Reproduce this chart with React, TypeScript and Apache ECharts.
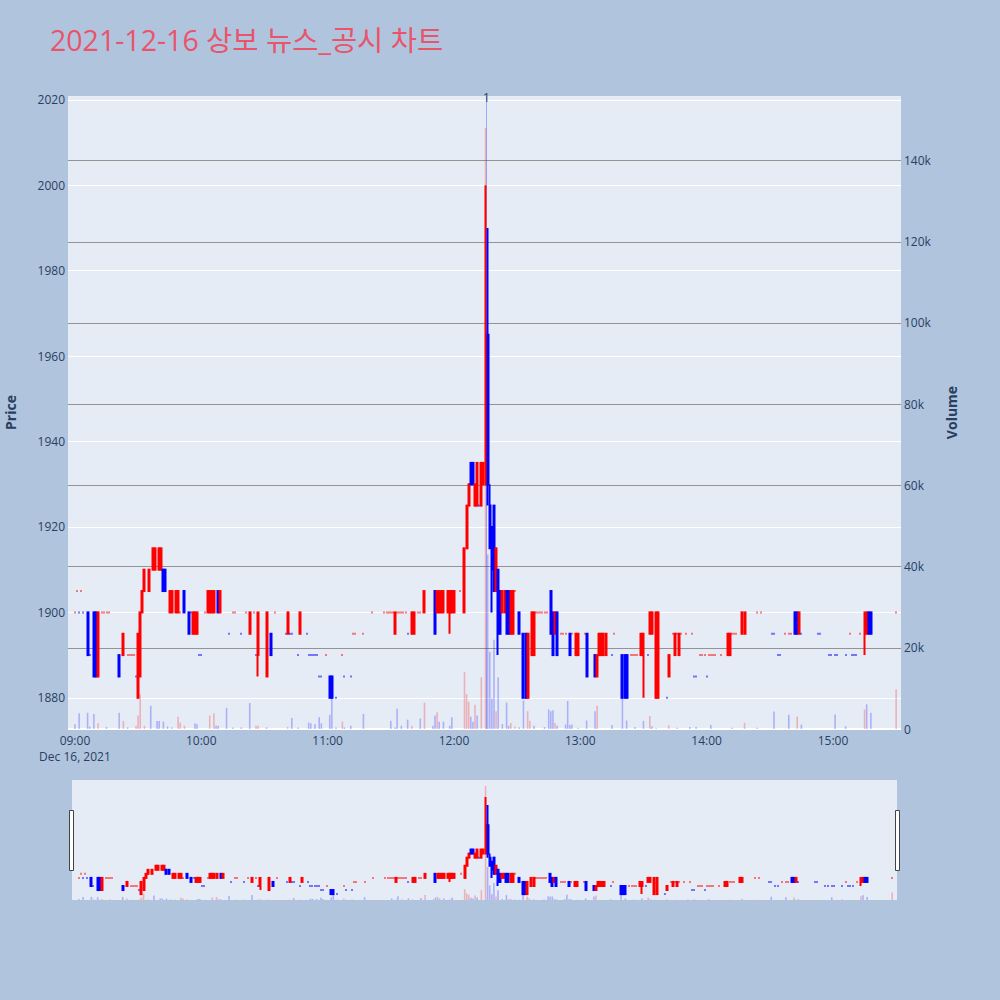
import { useEffect, useRef } from 'react'
import * as echarts from 'echarts'

const FONT = "'Open Sans', 'Noto Sans CJK KR', sans-serif"
const INK = '#2a3f5f'
const UP = '#ff0000'
const DOWN = '#0000ff'
const UP_VOL = 'rgba(255, 0, 0, 0.25)'
const DOWN_VOL = 'rgba(0, 0, 255, 0.25)'

// x values are minutes after 09:00
const X_MIN = -3.3
const X_MAX = 392.3
const PRICE_MIN = 1872.7
const PRICE_MAX = 2020.9
const VOLUME_MAX = 155900

const xTicks = [0, 60, 120, 180, 240, 300, 360]
const xTickLabels = ['09:00\nDec 16, 2021', '10:00', '11:00', '12:00', '13:00', '14:00', '15:00']
const priceTicks = [1880, 1900, 1920, 1940, 1960, 1980, 2000, 2020]
const volumeTicks = [0, 20000, 40000, 60000, 80000, 100000, 120000, 140000]
const newsTime = 195.4
const newsCount = '1'

// [minute, open, close, low, high]
const candles = [
  [6, 1900, 1890, 1890, 1900], [9, 1900, 1885, 1885, 1900], [10, 1900, 1885, 1885, 1900],
  [11, 1885, 1900, 1885, 1900], [21, 1890, 1885, 1885, 1890], [23, 1890, 1895, 1890, 1895],
  [30, 1880, 1895, 1880, 1895], [31, 1885, 1900, 1885, 1900], [32, 1900, 1905, 1900, 1905],
  [33, 1905, 1910, 1905, 1910], [35, 1905, 1910, 1905, 1910], [37, 1910, 1915, 1910, 1915],
  [38, 1910, 1915, 1910, 1915], [40, 1910, 1915, 1910, 1915], [41, 1910, 1915, 1910, 1915],
  [42, 1910, 1905, 1905, 1910], [43, 1910, 1905, 1905, 1910], [45, 1900, 1905, 1900, 1905],
  [46, 1900, 1905, 1900, 1905], [48, 1900, 1905, 1900, 1905], [49, 1900, 1905, 1900, 1905],
  [52, 1905, 1900, 1900, 1905], [54, 1900, 1895, 1895, 1900], [56, 1895, 1900, 1895, 1900],
  [57, 1895, 1900, 1895, 1900], [58, 1895, 1900, 1895, 1900], [63, 1900, 1905, 1900, 1905],
  [64, 1900, 1905, 1900, 1905], [65, 1900, 1905, 1900, 1905], [66, 1900, 1905, 1900, 1905],
  [68, 1905, 1900, 1900, 1905], [69, 1900, 1905, 1900, 1905], [83, 1895, 1900, 1895, 1900],
  [87, 1890, 1900, 1885, 1900], [91, 1885, 1900, 1885, 1900], [93, 1895, 1890, 1890, 1895],
  [101, 1895, 1900, 1895, 1900], [107, 1895, 1900, 1895, 1900], [121, 1885, 1880, 1880, 1885],
  [122, 1885, 1880, 1880, 1885], [152, 1895, 1900, 1895, 1900], [160, 1895, 1900, 1895, 1900],
  [161, 1895, 1900, 1895, 1900], [166, 1900, 1905, 1900, 1905], [171, 1905, 1895, 1895, 1905],
  [172, 1900, 1905, 1900, 1905], [173, 1900, 1905, 1900, 1905], [174, 1900, 1905, 1900, 1905],
  [175, 1900, 1905, 1900, 1905], [177, 1900, 1905, 1900, 1905], [178, 1900, 1905, 1895, 1905],
  [179, 1900, 1905, 1900, 1905], [180, 1900, 1905, 1900, 1905], [185, 1900, 1915, 1900, 1915],
  [186, 1915, 1925, 1915, 1925], [187, 1925, 1930, 1925, 1930], [188, 1935, 1930, 1930, 1935],
  [189, 1935, 1930, 1930, 1935], [190, 1925, 1930, 1925, 1930], [191, 1925, 1935, 1925, 1935],
  [193, 1925, 1935, 1925, 1935], [194, 1930, 1935, 1930, 1935], [195, 1930, 1965, 1930, 2000],
  [196, 1965, 1930, 1925, 1990], [197, 1925, 1915, 1915, 1930], [198, 1920, 1910, 1900, 1920],
  [199, 1925, 1905, 1905, 1925], [200, 1905, 1915, 1905, 1915], [201, 1910, 1895, 1890, 1910],
  [202, 1905, 1895, 1895, 1905], [203, 1900, 1905, 1900, 1905], [204, 1900, 1905, 1900, 1905],
  [205, 1905, 1895, 1895, 1905], [206, 1905, 1895, 1895, 1905], [207, 1895, 1905, 1895, 1905],
  [208, 1895, 1905, 1895, 1905], [211, 1900, 1895, 1895, 1900], [213, 1895, 1880, 1880, 1895],
  [214, 1895, 1880, 1880, 1895], [215, 1880, 1895, 1880, 1895], [217, 1890, 1900, 1890, 1900],
  [218, 1890, 1900, 1890, 1900], [226, 1905, 1895, 1895, 1905], [227, 1900, 1890, 1890, 1900],
  [228, 1895, 1900, 1895, 1900], [229, 1900, 1890, 1890, 1900], [235, 1895, 1890, 1890, 1895],
  [238, 1890, 1895, 1890, 1895], [239, 1890, 1895, 1890, 1895], [243, 1895, 1885, 1885, 1895],
  [247, 1890, 1885, 1885, 1890], [248, 1885, 1890, 1885, 1890], [249, 1890, 1895, 1890, 1895],
  [250, 1890, 1895, 1890, 1895], [251, 1890, 1895, 1890, 1895], [252, 1890, 1895, 1890, 1895],
  [260, 1890, 1880, 1880, 1890], [261, 1890, 1880, 1880, 1890], [262, 1890, 1880, 1880, 1890],
  [269, 1890, 1895, 1890, 1895], [270, 1890, 1895, 1880, 1895], [273, 1895, 1900, 1895, 1900],
  [274, 1895, 1900, 1895, 1900], [276, 1880, 1900, 1880, 1900], [277, 1880, 1900, 1880, 1900],
  [282, 1885, 1890, 1885, 1890], [285, 1890, 1895, 1890, 1895], [287, 1890, 1895, 1890, 1895],
  [310, 1890, 1895, 1890, 1895], [311, 1890, 1895, 1890, 1895], [317, 1895, 1900, 1895, 1900],
  [318, 1895, 1900, 1895, 1900], [342, 1900, 1895, 1895, 1900], [343, 1900, 1895, 1895, 1900],
  [344, 1895, 1900, 1895, 1900], [375, 1895, 1900, 1890, 1900], [376, 1895, 1900, 1895, 1900],
  [377, 1900, 1895, 1895, 1900], [378, 1900, 1895, 1895, 1900],
]

// [minute, price] for open == close minutes
const dojiUp = [
  [0, 1900], [1, 1905], [3, 1905], [13, 1900], [14, 1900], [15, 1900], [16, 1900],
  [25, 1890], [26, 1890], [27, 1890], [28, 1890], [50, 1900], [62, 1900], [75, 1900],
  [76, 1900], [81, 1900], [85, 1900], [95, 1900], [119, 1890], [127, 1890], [132, 1895],
  [133, 1895], [137, 1895], [141, 1900], [147, 1900], [148, 1900], [149, 1900], [150, 1900],
  [151, 1900], [153, 1900], [154, 1900], [155, 1900], [156, 1900], [157, 1900], [163, 1900],
  [164, 1900], [183, 1905], [209, 1905], [219, 1900], [220, 1900], [221, 1900], [222, 1900],
  [223, 1900], [224, 1900], [231, 1895], [232, 1895], [233, 1895], [236, 1895], [242, 1895],
  [256, 1895], [264, 1890], [265, 1890], [266, 1890], [267, 1890], [284, 1895], [286, 1895],
  [288, 1895], [290, 1895], [293, 1895], [297, 1890], [298, 1890], [299, 1890], [301, 1890],
  [302, 1890], [303, 1890], [304, 1890], [307, 1890], [312, 1895], [313, 1895], [314, 1895],
  [324, 1900], [326, 1900], [337, 1895], [339, 1895], [340, 1895], [368, 1895], [373, 1895],
  [390, 1900],
]
const dojiDown = [
  [2, 1900], [4, 1900], [7, 1890], [29, 1885], [55, 1900], [59, 1890], [60, 1890],
  [73, 1895], [79, 1895], [86, 1890], [100, 1895], [102, 1895], [103, 1895], [106, 1890],
  [110, 1895], [111, 1890], [112, 1890], [113, 1890], [114, 1890], [115, 1890], [116, 1885],
  [117, 1885], [124, 1880], [128, 1885], [131, 1885], [158, 1895], [192, 1925], [255, 1890],
  [272, 1890], [281, 1880], [294, 1885], [295, 1885], [300, 1885], [331, 1895], [332, 1895],
  [334, 1890], [335, 1890], [345, 1895], [353, 1895], [354, 1895], [358, 1890], [359, 1890],
  [361, 1890], [362, 1890], [366, 1890], [369, 1890], [370, 1890], [371, 1890],
]

// [minute, volume, 1 = rising minute]
const volumes = [
  [0, 1200, 0], [2, 3900, 0], [6, 4000, 0], [7, 600, 0], [9, 3700, 0], [11, 1400, 1],
  [15, 500, 0], [21, 4000, 0], [23, 2000, 1], [25, 400, 0], [29, 800, 1], [30, 3300, 1],
  [31, 8600, 1], [33, 800, 1], [36, 5700, 0], [39, 2000, 0], [40, 2000, 0], [42, 1800, 0],
  [44, 600, 0], [46, 400, 0], [49, 3000, 1], [50, 1600, 1], [52, 800, 1], [57, 1400, 0],
  [58, 1200, 0], [64, 3300, 1], [66, 3900, 1], [67, 800, 0], [68, 800, 0], [72, 5200, 0],
  [75, 400, 0], [79, 400, 0], [83, 6400, 0], [86, 800, 1], [87, 800, 1], [91, 400, 0],
  [101, 500, 1], [103, 2700, 0], [106, 400, 0], [111, 1600, 0], [112, 1400, 0], [114, 1200, 0],
  [116, 2900, 0], [117, 1400, 0], [121, 3500, 0], [122, 7800, 0], [124, 400, 0], [127, 1800, 1],
  [128, 400, 0], [131, 800, 0], [137, 3700, 0], [150, 2000, 0], [152, 400, 0], [153, 5000, 0],
  [155, 800, 0], [158, 2300, 0], [160, 800, 1], [164, 2600, 0], [166, 6500, 1], [170, 800, 0],
  [171, 3300, 0], [172, 4100, 1], [173, 1800, 0], [175, 1800, 0], [178, 800, 0], [179, 2900, 0],
  [185, 14000, 1], [186, 8600, 1], [187, 6700, 1], [188, 3000, 0], [189, 1800, 0], [190, 6000, 1],
  [191, 3300, 0], [193, 12700, 1], [195, 148000, 1], [196, 43000, 0], [197, 19000, 0],
  [198, 7500, 0], [199, 22000, 0], [200, 4400, 1], [201, 12700, 0], [203, 1200, 0],
  [205, 6500, 0], [206, 800, 0], [207, 1500, 1], [209, 600, 1], [211, 400, 0], [213, 7000, 0],
  [215, 4400, 1], [216, 2000, 1], [218, 800, 0], [223, 500, 0], [225, 4800, 0], [226, 4400, 0],
  [227, 4600, 0], [228, 1500, 1], [229, 800, 0], [233, 1100, 0], [234, 6900, 0], [235, 1000, 0],
  [236, 1100, 0], [239, 300, 0], [243, 2100, 0], [247, 4400, 0], [248, 5700, 1], [255, 1000, 0],
  [260, 7400, 0], [262, 2100, 0], [266, 500, 0], [270, 2000, 0], [273, 3200, 1], [274, 700, 0],
  [276, 300, 1], [282, 900, 1], [286, 300, 0], [292, 500, 0], [295, 500, 0], [302, 1000, 0],
  [312, 300, 0], [318, 1500, 1], [324, 300, 0], [332, 4300, 0], [339, 3500, 0], [343, 3100, 1],
  [345, 1100, 0], [361, 3600, 0], [366, 700, 0], [375, 4800, 1], [376, 6100, 0], [378, 4000, 0],
  [390, 9800, 1],
]

function candleData() {
  const rows = [
    ...candles.map(([t, o, c, l, h]) => ({ t, o, c, l, h, up: c > o })),
    ...dojiUp.map(([t, p]) => ({ t, o: p, c: p, l: p, h: p, up: true })),
    ...dojiDown.map(([t, p]) => ({ t, o: p, c: p, l: p, h: p, up: false })),
  ].sort((a, b) => a.t - b.t)
  return rows.map((r) => {
    const col = r.up ? UP : DOWN
    return {
      value: [r.t, r.o, r.c, r.l, r.h],
      itemStyle: { color: col, color0: col, borderColor: col, borderColor0: col },
    }
  })
}

function volumeData() {
  return volumes.map(([t, v, up]) => ({
    value: [t, v],
    itemStyle: { color: up ? UP_VOL : DOWN_VOL },
  }))
}

const hLines = (values: number[], color: string, width: number) =>
  values.map((v) => ({ yAxis: v, lineStyle: { color, width, type: 'solid' } }))

export default function App() {
  const chartRef = useRef<HTMLDivElement>(null)

  useEffect(() => {
    if (!chartRef.current) return
    const chart = echarts.init(chartRef.current, undefined, { renderer: 'svg' })

    const cData = candleData()
    const vData = volumeData()
    const labelStyle = { color: INK, fontSize: 12, fontFamily: FONT }
    const hidden = { show: false }

    chart.setOption({
      animation: false,
      backgroundColor: '#b0c4de',
      textStyle: { fontFamily: FONT },
      title: {
        text: '2021-12-16 상보 뉴스_공시 차트',
        left: 45,
        top: 21,
        textStyle: { color: '#e9546b', fontSize: 28.5, fontWeight: 'normal', fontFamily: FONT },
      },
      grid: [
        {
          left: 68, top: 96, width: 833, height: 633,
          show: true, backgroundColor: '#e5ecf6', borderWidth: 0,
          containLabel: false, outerBoundsMode: 'none',
        },
        {
          left: 72, top: 780, width: 825, height: 120,
          show: true, backgroundColor: '#e5ecf6', borderWidth: 0,
          containLabel: false, outerBoundsMode: 'none',
        },
      ],
      xAxis: [
        {
          type: 'value',
          gridIndex: 0,
          min: X_MIN,
          max: X_MAX,
          axisLine: { show: false, onZero: false },
          axisTick: hidden,
          splitLine: hidden,
          axisLabel: {
            ...labelStyle,
            customValues: xTicks,
            margin: 3,
            lineHeight: 16,
            formatter: (v: number) => xTickLabels[xTicks.indexOf(v)] ?? '',
          },
        },
        { type: 'value', gridIndex: 1, min: X_MIN, max: X_MAX, show: false, axisLine: { onZero: false } },
      ],
      yAxis: [
        {
          type: 'value',
          gridIndex: 0,
          position: 'left',
          min: PRICE_MIN,
          max: PRICE_MAX,
          axisLine: { show: false, onZero: false },
          axisTick: hidden,
          splitLine: hidden,
          axisLabel: {
            ...labelStyle,
            customValues: priceTicks,
            margin: 3,
            formatter: (v: number) => String(v),
          },
          name: 'Price',
          nameLocation: 'middle',
          nameGap: 51,
          nameTextStyle: { color: INK, fontSize: 14, fontWeight: 'bold', fontFamily: FONT },
        },
        {
          type: 'value',
          gridIndex: 0,
          position: 'right',
          min: 0,
          max: VOLUME_MAX,
          axisLine: { show: false, onZero: false },
          axisTick: hidden,
          splitLine: hidden,
          axisLabel: {
            ...labelStyle,
            customValues: volumeTicks,
            margin: 3,
            formatter: (v: number) => (v === 0 ? '0' : `${v / 1000}k`),
          },
          name: 'Volume',
          nameLocation: 'middle',
          nameGap: 43,
          nameTextStyle: { color: INK, fontSize: 14, fontWeight: 'bold', fontFamily: FONT },
        },
        { type: 'value', gridIndex: 1, min: PRICE_MIN, max: PRICE_MAX, show: false, axisLine: { onZero: false } },
        { type: 'value', gridIndex: 1, min: 0, max: VOLUME_MAX, show: false, axisLine: { onZero: false } },
      ],
      series: [
        {
          // price grid
          type: 'line',
          xAxisIndex: 0,
          yAxisIndex: 0,
          data: [],
          silent: true,
          markLine: {
            silent: true,
            z: 1,
            symbol: 'none',
            label: { show: false },
            data: hLines(priceTicks, '#ffffff', 1),
          },
        },
        {
          // volume grid
          type: 'line',
          xAxisIndex: 0,
          yAxisIndex: 1,
          data: [],
          silent: true,
          markLine: {
            silent: true,
            z: 1,
            symbol: 'none',
            label: { show: false },
            data: [
              ...hLines(volumeTicks.slice(1), '#939393', 1),
              { yAxis: 0, lineStyle: { color: '#ffffff', width: 2, type: 'solid' } },
            ],
          },
        },
        {
          type: 'bar',
          name: 'Volume',
          xAxisIndex: 0,
          yAxisIndex: 1,
          barWidth: 1.6,
          z: 3,
          data: vData,
          markLine: {
            silent: true,
            z: 2,
            symbol: 'none',
            data: [{ xAxis: newsTime }],
            lineStyle: { color: 'rgba(70, 90, 255, 0.45)', width: 1, type: 'solid' },
            label: {
              show: true,
              position: 'end',
              distance: -7,
              formatter: newsCount,
              color: INK,
              fontSize: 12,
              fontFamily: FONT,
            },
          },
        },
        {
          type: 'candlestick',
          name: 'Price',
          xAxisIndex: 0,
          yAxisIndex: 0,
          encode: { x: 0, y: [1, 2, 3, 4] },
          barWidth: 1.5,
          z: 4,
          itemStyle: { borderWidth: 2 },
          data: cData,
        },
        {
          type: 'bar',
          xAxisIndex: 1,
          yAxisIndex: 3,
          barWidth: 1.6,
          z: 3,
          data: vData,
        },
        {
          type: 'candlestick',
          xAxisIndex: 1,
          yAxisIndex: 2,
          encode: { x: 0, y: [1, 2, 3, 4] },
          barWidth: 1.5,
          z: 4,
          itemStyle: { borderWidth: 2 },
          data: cData,
        },
      ],
      graphic: [
        { type: 'rect', shape: { x: 69.5, y: 810.5, width: 4, height: 60 }, style: { fill: '#ffffff', stroke: '#444444', lineWidth: 1 }, z: 10 },
        { type: 'rect', shape: { x: 895.5, y: 810.5, width: 4, height: 60 }, style: { fill: '#ffffff', stroke: '#444444', lineWidth: 1 }, z: 10 },
      ],
    })

    return () => chart.dispose()
  }, [])

  return (
    <div
      ref={chartRef}
      style={{ position: 'fixed', left: 0, top: 0, width: 1000, height: 1000 }}
    />
  )
}
